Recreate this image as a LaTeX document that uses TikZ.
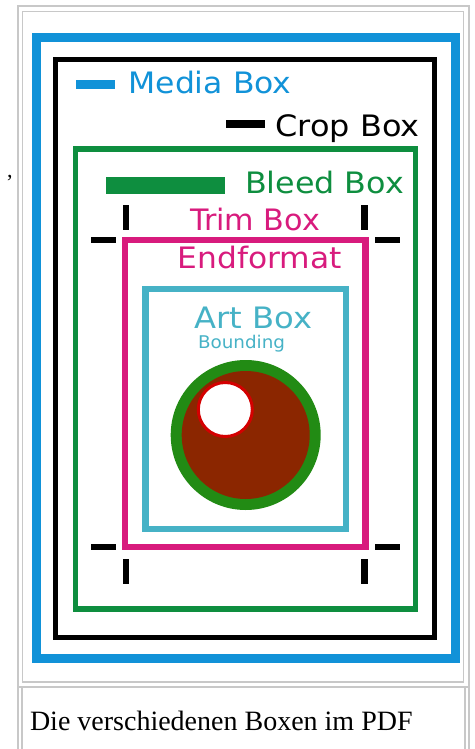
\documentclass[tikz,border=0pt]{standalone}
\usepackage{fontspec}
\setmainfont{Liberation Serif}
\newfontfamily\dvs{DejaVu Sans}
\usepackage{graphicx}
\definecolor{mediablue}{HTML}{1192D8}
\definecolor{bleedgreen}{HTML}{0E8E3F}
\definecolor{trimpink}{HTML}{D81B7D}
\definecolor{artcyan}{HTML}{46B2C6}
\definecolor{ringgreen}{HTML}{228B14}
\definecolor{ballbrown}{HTML}{8B2600}
\definecolor{hilitered}{HTML}{D40000}
\definecolor{framegray}{HTML}{C8C8C8}
\tikzset{
  framestyle/.style={draw=framegray, line width=2pt},
  boxline/.style={line width=#1},
  cropmark/.style={draw=black, line width=6.5pt},
  lbl/.style={anchor=base west, inner sep=0pt, outer sep=0pt, font=\dvs\fontsize{29.5}{32}\selectfont},
  smalllbl/.style={anchor=base west, inner sep=0pt, outer sep=0pt, font=\dvs\fontsize{17.5}{20}\selectfont},
  captext/.style={anchor=base west, inner sep=0pt, outer sep=0pt, font=\fontsize{28}{32}\selectfont}
}
\begin{document}
\begin{tikzpicture}[x=1pt,y=-1pt]
\useasboundingbox (0,0) rectangle (474,749);
% thumbnail frame
\draw[framestyle] (18,749) -- (18,6) -- (469,6) -- (469,749);
\draw[framegray, line width=1.5pt] (22.5,11.5) rectangle (463.5,682);
\draw[framestyle] (18,686.5) -- (469,686.5);
\draw[framegray, line width=1.5pt] (22,686.5) -- (22,749);
\draw[framegray, line width=1.5pt] (465,686.5) -- (465,749);
% boxes
\draw[mediablue, boxline=9pt] (36.5,38) rectangle (455,658);
\draw[black, boxline=4.5pt] (55.5,59.5) rectangle (434.5,637.5);
\draw[bleedgreen, boxline=5.5pt] (75.5,149) rectangle (415.5,609);
\draw[trimpink, boxline=6.5pt] (125,240) rectangle (365.5,547);
\draw[artcyan, boxline=6.5pt] (145.5,289) rectangle (346,529);
% crop marks
\draw[cropmark] (126,205) -- (126,230);
\draw[cropmark] (364.5,205) -- (364.5,230);
\draw[cropmark] (126,559) -- (126,584);
\draw[cropmark] (364.5,559) -- (364.5,584);
\draw[cropmark] (91,240) -- (116,240);
\draw[cropmark] (375,240) -- (400,240);
\draw[cropmark] (91,547) -- (116,547);
\draw[cropmark] (375,547) -- (400,547);
% legend bars
\draw[mediablue, line width=9pt] (76,84.5) -- (115,84.5);
\draw[black, line width=8pt] (226,124) -- (265,124);
\draw[bleedgreen, line width=17pt] (106,185.5) -- (225,185.5);
% labels
\node[lbl, text=mediablue] (media) at (128.5,93.3) {\resizebox{163pt}{\height}{Media Box}};
\node[lbl, text=black] (crop) at (275.5,136) {\resizebox{144pt}{\height}{Crop Box}};
\node[lbl, text=bleedgreen] (bleed) at (245,193) {\resizebox{159pt}{\height}{Bleed Box}};
\node[lbl, text=trimpink] (trim) at (190,230) {\resizebox{130pt}{\height}{Trim Box}};
\node[lbl, text=trimpink] (endf) at (177.5,268.3) {\resizebox{164pt}{\height}{Endformat}};
\node[lbl, text=artcyan] (art) at (194.5,328.3) {\resizebox{118pt}{\height}{Art Box}};
\node[smalllbl, text=artcyan] (bound) at (198,348.3) {\resizebox{87pt}{\height}{Bounding}};
% ball
\fill[ringgreen] (245.7,435) circle[radius=75];
\fill[ballbrown] (245.7,435) circle[radius=64];
\filldraw[fill=white, draw=hilitered, line width=3pt] (225.3,409.5) circle[radius=27];
% stray comma and caption
\node[captext, font=\fontsize{22}{24}\selectfont] (comma) at (7,177.5) {,};
\node[captext] (caption) at (30,730.7) {Die verschiedenen Boxen im PDF};
\end{tikzpicture}
\end{document}
